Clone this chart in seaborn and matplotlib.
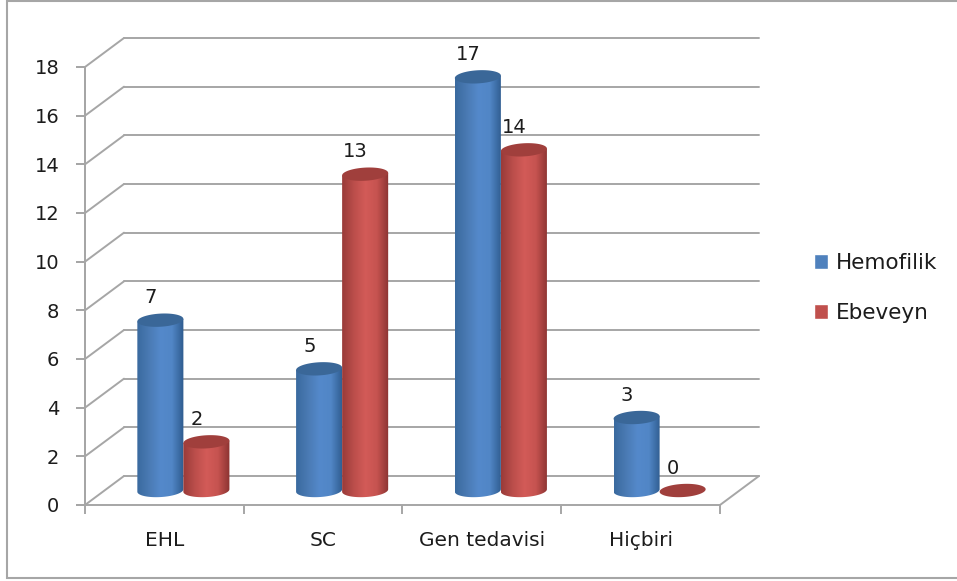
import matplotlib
matplotlib.use("Agg")
import matplotlib.pyplot as plt
import numpy as np
import pandas as pd
import seaborn as sns
from matplotlib.colors import LinearSegmentedColormap
from matplotlib.markers import TICKLEFT
from matplotlib.patches import ConnectionPatch, Polygon, Rectangle

categories = ["EHL", "SC", "Gen tedavisi", "Hiçbiri"]
series_names = ["Hemofilik", "Ebeveyn"]
hemofilik = [7, 5, 17, 3]
ebeveyn = [2, 13, 14, 0]
y_ticks = [0, 2, 4, 6, 8, 10, 12, 14, 16, 18]

W, H = 957, 581
GRAY = "#a6a6a6"
TEXT = "#1c1c1c"
FS = 14
# body gradient / cap colour for each series
SHADES = {
    "Hemofilik": (["#3a6a9f", "#4a7ab3", "#5489cb", "#5186c6", "#2f5c8f"], "#3a6798"),
    "Ebeveyn": (["#9a3b39", "#bb4e4b", "#d35b58", "#c65350", "#8c3432"], "#a03f3c"),
}

sns.set_style("white")
plt.rcParams["font.family"] = ["DejaVu Sans"]


def px_rect(left, bottom_y, width, height):
    return [left / W, 1 - bottom_y / H, width / W, height / H]


def draw_cylinder(ax, bar, name):
    x0, w, h = bar.get_x(), bar.get_width(), bar.get_height()
    cx = x0 + w / 2
    b = 0.27
    skew = 0.35
    t = np.linspace(np.pi, 2 * np.pi, 60)
    bx = cx + w / 2 * np.cos(t)
    by = b * np.sin(t) + skew * (bx - cx)
    tops = [(x0 + w, h + skew * w / 2), (x0, h - skew * w / 2)]
    colors, cap = SHADES[name]
    if h > 0:
        body = Polygon(list(zip(bx, by)) + tops, closed=True, facecolor="none", edgecolor="none")
        body.set_clip_on(False)
        ax.add_patch(body)
        cmap = LinearSegmentedColormap.from_list(name, colors)
        img = ax.imshow(
            np.linspace(0, 1, 64).reshape(1, -1),
            cmap=cmap,
            extent=(x0, x0 + w, -1, h + 1),
            aspect="auto",
            zorder=3,
        )
        # the rounded foot hangs below y=0, so clip to the figure plus the body outline
        img.set_clip_box(ax.figure.bbox)
        img.set_clip_path(body)
    t = np.linspace(0, 2 * np.pi, 90)
    ex = cx + w / 2 * np.cos(t)
    ey = h + b * np.sin(t) + skew * (ex - cx)
    cap_patch = Polygon(list(zip(ex, ey)), closed=True, facecolor=cap, edgecolor="none", zorder=4)
    cap_patch.set_clip_on(False)
    ax.add_patch(cap_patch)


df = pd.DataFrame(
    {
        "kategori": categories * 2,
        "seri": [series_names[0]] * 4 + [series_names[1]] * 4,
        "deger": hemofilik + ebeveyn,
    }
)

fig = plt.figure(figsize=(W / 100, H / 100), dpi=100)
fig.patches.append(
    Rectangle((7 / W, 1 - 578 / H), 960 / W, 577 / H, transform=fig.transFigure,
              facecolor="white", edgecolor=GRAY, linewidth=1.5, zorder=-1)
)

# back wall, shifted up and right of the front axis
ax_wall = fig.add_axes(px_rect(85 + 39, 505 - 29, 635, 438), zorder=1)
ax_bars = fig.add_axes(px_rect(85 + 19, 505 - 14.5, 635, 438), zorder=3)
ax = fig.add_axes(px_rect(85, 505, 635, 438), zorder=6)

for a in (ax_wall, ax, ax_bars):
    a.patch.set_alpha(0)
    a.set_xlim(-0.5, 3.5)
    a.set_ylim(0, 18)

ax_wall.set_yticks(y_ticks)
ax_wall.set_xticks([])
ax_wall.grid(axis="y", color=GRAY, linewidth=1.4, clip_on=False)
ax_wall.tick_params(left=False, labelleft=False)
sns.despine(ax=ax_wall, left=True, bottom=True)

sns.despine(ax=ax)
ax.spines["left"].set_color(GRAY)
ax.spines["bottom"].set_color(GRAY)
ax.spines["left"].set_linewidth(1.4)
ax.spines["bottom"].set_linewidth(1.4)
ax.set_yticks(y_ticks)
ax.set_yticklabels([str(v) for v in y_ticks], fontsize=FS, color=TEXT)
ax.set_xticks([-0.5, 0.5, 1.5, 2.5, 3.5])
ax.set_xticklabels([])
ax.set_xticks([0, 1, 2, 3], minor=True)
ax.set_xticklabels(categories, minor=True, fontsize=FS + 0.5, color=TEXT)
ax.tick_params(axis="y", which="major", length=6.5, width=1.4, color=GRAY, left=True, pad=12)
ax.tick_params(axis="x", which="major", length=6.5, width=1.4, color=GRAY, bottom=True)
ax.tick_params(axis="x", which="minor", length=0, pad=19)

# left axis line and its ticks, drawn again so they stay visible
ax.plot([-0.5] * len(y_ticks), y_ticks, linestyle="none", marker=TICKLEFT, markersize=6.5,
        markeredgewidth=1.4, color=GRAY, clip_on=False)
fig.add_artist(ConnectionPatch((-0.5, y_ticks[0]), (-0.5, y_ticks[-1]), "data", "data",
                               axesA=ax, axesB=ax, color=GRAY, linewidth=1.4,
                               shrinkA=0, shrinkB=0, zorder=7))

# side wall and floor edges joining the front axis to the back wall
for v in y_ticks:
    fig.add_artist(ConnectionPatch((-0.5, v), (-0.5, v), "data", "data", axesA=ax, axesB=ax_wall,
                                   color=GRAY, linewidth=1.4))
fig.add_artist(ConnectionPatch((3.5, 0), (3.5, 0), "data", "data", axesA=ax, axesB=ax_wall,
                               color=GRAY, linewidth=1.4))

sns.barplot(
    data=df, x="kategori", y="deger", hue="seri", order=categories, hue_order=series_names,
    palette=["#4f81bd", "#c0504d"], width=0.58, gap=0, saturation=1, ax=ax_bars,
)
handles, labels = ax_bars.get_legend_handles_labels()
ax_bars.get_legend().remove()

for name, container in zip(series_names, ax_bars.containers):
    for bar in container:
        bar.set_alpha(0)
        draw_cylinder(ax_bars, bar, name)
        ax_bars.annotate(
            f"{bar.get_height():.0f}",
            (bar.get_x() + bar.get_width() / 2, bar.get_height()),
            xytext=(-7, 16), textcoords="offset points",
            ha="center", va="center", fontsize=FS, color=TEXT, zorder=6,
        )

ax_bars.set_xlim(-0.5, 3.5)
ax_bars.set_ylim(0, 18)
ax_bars.set_axis_off()
ax.set_xlim(-0.5, 3.5)
ax.set_ylim(0, 18)

fig.legend(
    handles, labels, loc="center left", bbox_to_anchor=(814 / W, 1 - 288 / H), frameon=False,
    fontsize=15.5, labelcolor=TEXT, borderpad=0, borderaxespad=0, handlelength=0.66,
    handleheight=0.66, handletextpad=0.35, labelspacing=1.4,
).set_zorder(5)

fig.savefig("out.png", dpi=100)
plt.close(fig)
